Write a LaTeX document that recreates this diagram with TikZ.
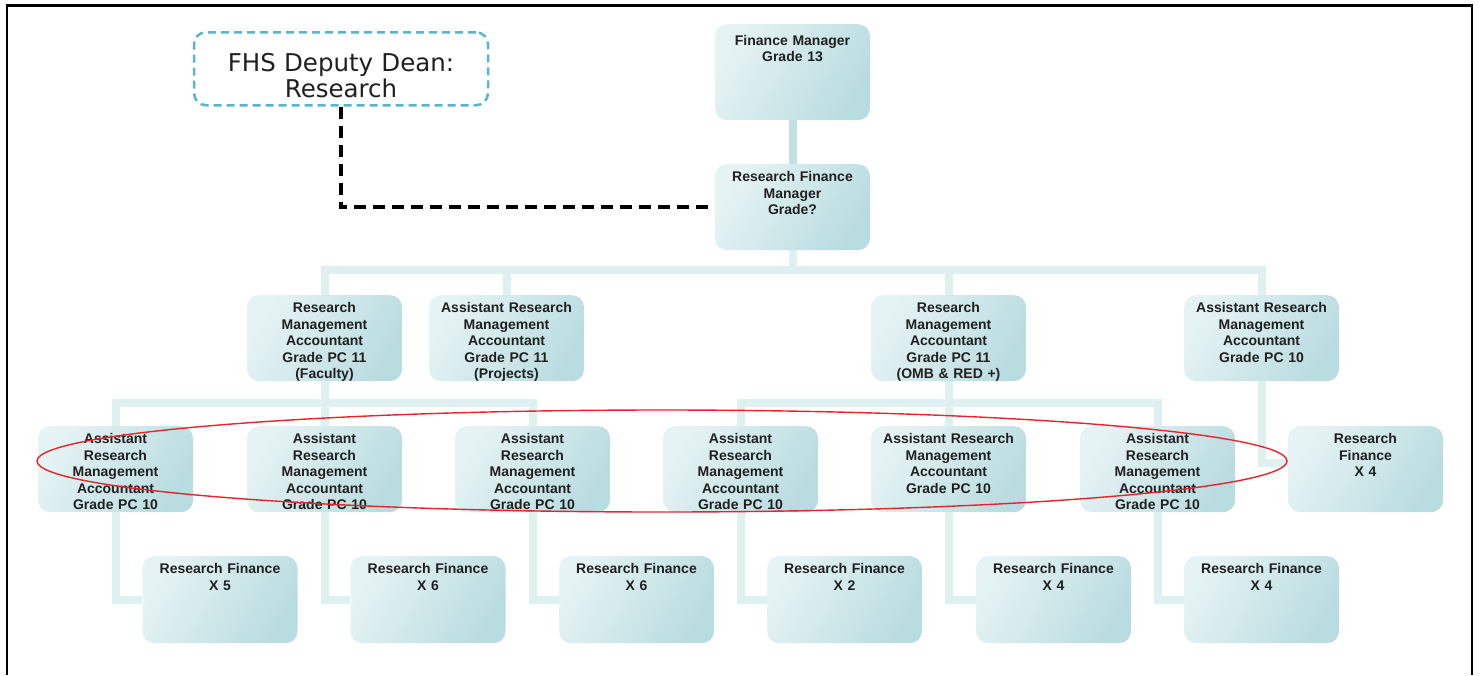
\documentclass[tikz,border=0pt]{standalone}
\usepackage{fontspec}
\setmainfont{Liberation Sans}
\newfontfamily\deanfont{DejaVu Sans}
\definecolor{boxlight}{HTML}{E6F3F4}
\definecolor{boxdark}{HTML}{B9DCE0}
\definecolor{linkpale}{HTML}{DFF0F1}
\definecolor{linkdark}{HTML}{C0E0E3}
\definecolor{deanblue}{HTML}{5BB3CC}
\definecolor{ink}{HTML}{202020}
\definecolor{ringred}{HTML}{E8232A}
\tikzset{
  post/.style={rounded corners=12pt, left color=boxlight, right color=boxdark, shading angle=60,
    anchor=north, text width=150pt, inner xsep=2.5pt, inner ysep=0pt, align=center,
    text height=17.5pt, text depth=68.5pt, text=ink, font=\bfseries\fontsize{14}{16.5}\selectfont},
  link/.style={linkpale, line width=8pt},
  dean/.style={draw=deanblue, line width=2.5pt, dash pattern=on 8pt off 5pt, rounded corners=12pt,
    anchor=north, text width=289pt, inner xsep=2.5pt, inner ysep=0pt, align=center,
    text height=39pt, text depth=34pt, text=ink, font=\deanfont\fontsize{24.5}{26.5}\selectfont},
  deanlink/.style={black, line width=4pt, dash pattern=on 12pt off 7pt}
}
\begin{document}
\begin{tikzpicture}[x=1pt, y=1pt]
\useasboundingbox (0,0) rectangle (1480,-675);

% page frame
\draw[black, line width=1.6pt] (7,-675) -- (7,-5) -- (1472,-5) -- (1472,-675);
\draw[black, line width=3pt] (7,-5) -- (1472,-5);

% top of the chart
\node[dean] (dean) at (341,-31) {FHS Deputy Dean:\\Research};
\node[post, text height=21pt, text depth=75pt] (fm) at (792.5,-24) {Finance Manager\\Grade 13};
\node[post] (rfm) at (792.5,-164) {Research Finance\\Manager\\Grade?};

% grade PC 11 / PC 10 row
\node[post] (fac) at (324.5,-295) {Research\\Management\\Accountant\\Grade PC 11\\(Faculty)};
\node[post] (proj) at (506.5,-295) {Assistant Research\\Management\\Accountant\\Grade PC 11\\(Projects)};
\node[post] (omb) at (948.5,-295) {Research\\Management\\Accountant\\Grade PC 11\\(OMB \& RED +)};
\node[post] (arma) at (1261.5,-295) {Assistant Research\\Management\\Accountant\\Grade PC 10};

% assistant accountants
\node[post] (e1) at (115.5,-426) {Assistant\\Research\\Management\\Accountant\\Grade PC 10};
\node[post] (e2) at (324.5,-426) {Assistant\\Research\\Management\\Accountant\\Grade PC 10};
\node[post] (e3) at (532.5,-426) {Assistant\\Research\\Management\\Accountant\\Grade PC 10};
\node[post] (e4) at (740.5,-426) {Assistant\\Research\\Management\\Accountant\\Grade PC 10};
\node[post] (e5) at (948.5,-426) {Assistant Research\\Management\\Accountant\\Grade PC 10};
\node[post] (e6) at (1157.5,-426) {Assistant\\Research\\Management\\Accountant\\Grade PC 10};
\node[post] (rf7) at (1365.5,-426) {Research\\Finance\\X 4};

% research finance teams
\node[post, text depth=69.5pt] (f1) at (220,-556) {Research Finance\\X 5};
\node[post, text depth=69.5pt] (f2) at (428,-556) {Research Finance\\X 6};
\node[post, text depth=69.5pt] (f3) at (636.5,-556) {Research Finance\\X 6};
\node[post, text depth=69.5pt] (f4) at (844.5,-556) {Research Finance\\X 2};
\node[post, text depth=69.5pt] (f5) at (1053.5,-556) {Research Finance\\X 4};
\node[post, text depth=69.5pt] (f6) at (1261.5,-556) {Research Finance\\X 4};

% connectors
\draw[linkdark, line width=8pt] (fm.south) -- (rfm.north);
\draw[deanlink] (dean.south) |- (rfm.west);
\foreach \n in {fac,proj,omb,arma}
  \draw[link] (rfm.south) -- ++(0,-20) -| (\n.north);
\foreach \n in {e1,e2,e3}
  \draw[link] (fac.south) -- ++(0,-22) -| (\n.north);
\foreach \n in {e4,e5,e6}
  \draw[link] (omb.south) -- ++(0,-22) -| (\n.north);
\draw[link] (arma.south) |- ([yshift=6pt]rf7.west);
\draw[link] (e1.south) |- (f1.west);
\draw[link] (e2.south) |- (f2.west);
\draw[link] (e3.south) |- (f3.west);
\draw[link] (e4.south) |- (f4.west);
\draw[link] (e5.south) |- (f5.west);
\draw[link] (e6.south) |- (f6.west);

% red ring round the assistant accountants
\draw[ringred, line width=1.4pt] (662,-461) ellipse [x radius=625, y radius=51];

\end{tikzpicture}
\end{document}
